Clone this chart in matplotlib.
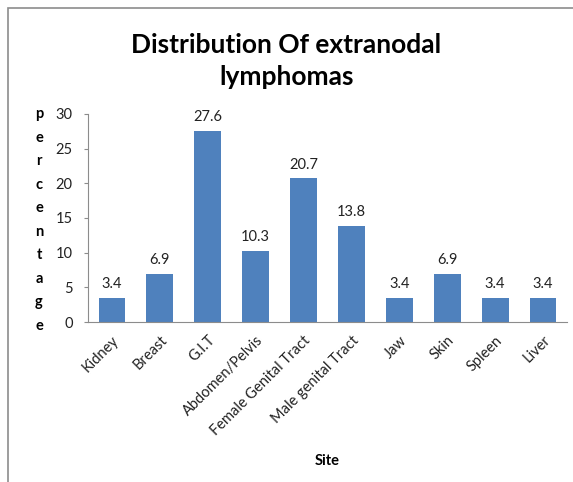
import matplotlib
matplotlib.use("Agg")
import matplotlib.pyplot as plt
from matplotlib.patches import Rectangle

categories = ["Kidney", "Breast", "G.I.T", "Abdomen/Pelvis", "Female Genital Tract",
              "Male genital Tract", "Jaw", "Skin", "Spleen", "Liver"]
values = [3.4, 6.9, 27.6, 10.3, 20.7, 13.8, 3.4, 6.9, 3.4, 3.4]
yticks = [0, 5, 10, 15, 20, 25, 30]

plt.rcParams['font.family'] = ['Lato', 'DejaVu Sans']

W, H = 573, 482
fig = plt.figure(figsize=(W / 100, H / 100), dpi=100)

# outer border
fig.patches.append(Rectangle((8 / W, -0.01), 1.1, 1 - 8 / H + 0.01, transform=fig.transFigure,
                             fill=False, edgecolor="#8c8c8c", linewidth=1.2))

ax = fig.add_axes([88 / W, 1 - 322 / H, (567 - 88) / W, (322 - 114) / H])
x = list(range(len(categories)))
ax.bar(x, values, width=0.56, color="#4F81BD")
for xi, v in zip(x, values):
    ax.text(xi, v + 1.0, f"{v}", ha="center", va="bottom", fontsize=10.5, color="#222222")

ax.set_xlim(-0.5, len(categories) - 0.5)
ax.set_ylim(0, 30)
ax.set_yticks(yticks)
ax.set_yticklabels([str(t) for t in yticks], fontsize=10.5, color="#222222")
ax.tick_params(axis="y", length=3, color="#8c8c8c", pad=8)
ax.set_xticks(x)
ax.set_xticklabels(categories, rotation=45, ha="right", rotation_mode="anchor",
                   fontsize=10.5, color="#222222")
ax.tick_params(axis="x", length=0, pad=8)
for s in ["top", "right"]:
    ax.spines[s].set_visible(False)
for s in ["left", "bottom"]:
    ax.spines[s].set_color("#8c8c8c")

ax.set_xlabel("Site", fontsize=10.5, fontweight="bold")
ax.xaxis.set_label_coords(0.5, (322 - 454) / (322 - 114))

fig.text(0.5, 1 - 45 / H, "Distribution Of extranodal", ha="center", va="center",
         fontsize=19, fontweight="bold")
fig.text(0.5, 1 - 77 / H, "lymphomas", ha="center", va="center",
         fontsize=19, fontweight="bold")

letters = "percentage"
for i, ch in enumerate(letters):
    y = 114 + i * (326 - 114) / (len(letters) - 1)
    fig.text(39 / W, 1 - y / H, ch, ha="center", va="center", fontsize=10.5, fontweight="bold")

fig.savefig("out.png", dpi=100)
